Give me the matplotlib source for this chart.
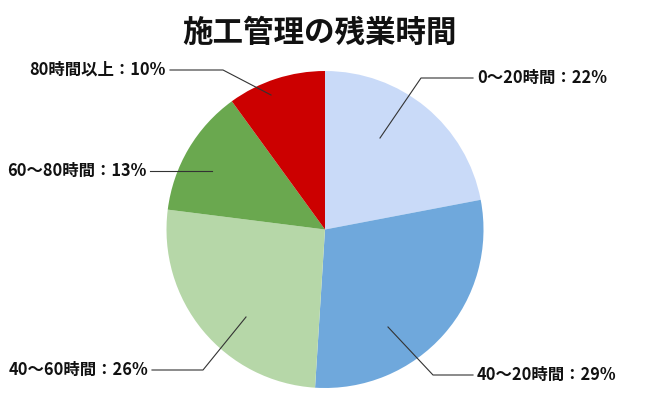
import matplotlib
matplotlib.use("Agg")
import matplotlib.pyplot as plt

plt.rcParams['font.family'] = ['Noto Sans CJK JP', 'DejaVu Sans']

title = "施工管理の残業時間"
categories = ["0〜20時間", "40〜20時間", "40〜60時間", "60〜80時間", "80時間以上"]
values = [22, 29, 26, 13, 10]
colors = ["#C9DAF8", "#6FA8DC", "#B6D7A8", "#6AA84F", "#CC0000"]

# layout (pixel coords, y from top): anchor point, elbow, text position, alignment
anchors = [(380, 138), (388, 327), (246, 317), (212, 171), (271, 95)]
elbows = [(421, 78), (433, 375), (203, 370), (212, 171), (223, 70)]
text_pos = [(477, 78), (477, 375), (148, 370), (146, 171), (166, 70)]
text_ha = ["left", "left", "right", "right", "right"]

W, H = 650, 400
fig = plt.figure(figsize=(6.5, 4.0), dpi=100)
ax = fig.add_axes([0, 0, 1, 1])

cx, cy, r = 325, H - 229.5, 158.5
ax.pie(values, colors=colors, startangle=90, counterclock=False,
       center=(cx, cy), radius=r, frame=True,
       wedgeprops=dict(linewidth=0))
ax.set_xlim(0, W)
ax.set_ylim(0, H)
ax.set_aspect('equal')
ax.axis('off')

for cat, v, a, e, t, ha in zip(categories, values, anchors, elbows, text_pos, text_ha):
    xs = [a[0], e[0], t[0] + (-4 if ha == "left" else 4)]
    ys = [H - a[1], H - e[1], H - t[1]]
    ax.plot(xs, ys, color="#333333", linewidth=0.8)
    ax.text(t[0], H - t[1], f"{cat}：{v}%", ha=ha, va="center",
            fontsize=11.8, fontweight="bold", color="#111111")

fig.text(320 / W, 1 - 33 / H, title, ha="center", va="center",
         fontsize=22, fontweight="bold", color="#111111")

fig.savefig("out.png", dpi=100)
